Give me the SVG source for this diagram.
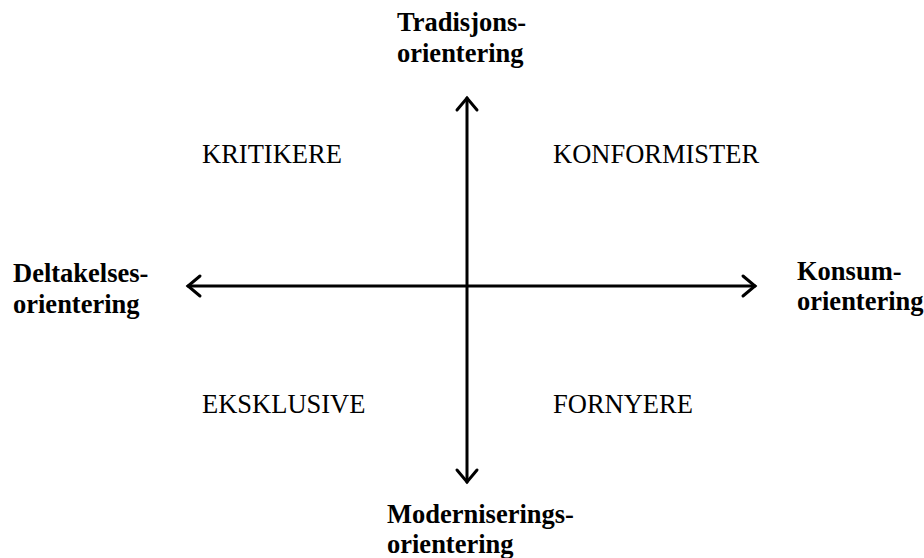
<svg xmlns="http://www.w3.org/2000/svg" width="924" height="558" viewBox="0 0 924 558">
<style>
.ax{stroke:#000;stroke-width:3;fill:none;stroke-linecap:round;stroke-linejoin:miter}
.b{font-family:"Liberation Serif","Times New Roman",serif;font-weight:bold;font-size:26.5px;fill:#000}
.q{font-family:"Liberation Serif","Times New Roman",serif;font-size:26.5px;fill:#000}
</style>
<g id="connectors">
<line class="ax" x1="467" y1="98" x2="467" y2="482"/>
<polyline class="ax" points="457,110 467,98 477,110"/>
<polyline class="ax" points="457,470 467,482 477,470"/>
<line class="ax" x1="188" y1="286" x2="755" y2="286"/>
<polyline class="ax" points="200,276 188,286 200,296"/>
<polyline class="ax" points="743,276 755,286 743,296"/>
</g>
<g id="top"><text class="b" x="397" y="31">Tradisjons-</text><text class="b" x="397" y="62">orientering</text></g>
<g id="left"><text class="b" x="13" y="282">Deltakelses-</text><text class="b" x="13" y="313">orientering</text></g>
<g id="right"><text class="b" x="797" y="280">Konsum-</text><text class="b" x="797" y="310">orientering</text></g>
<g id="bottom"><text class="b" x="387" y="523">Moderniserings-</text><text class="b" x="387" y="553">orientering</text></g>
<g id="kritikere"><text class="q" x="202" y="163">KRITIKERE</text></g>
<g id="konformister"><text class="q" x="553" y="163">KONFORMISTER</text></g>
<g id="eksklusive"><text class="q" x="202" y="413">EKSKLUSIVE</text></g>
<g id="fornyere"><text class="q" x="553" y="413">FORNYERE</text></g>
</svg>
